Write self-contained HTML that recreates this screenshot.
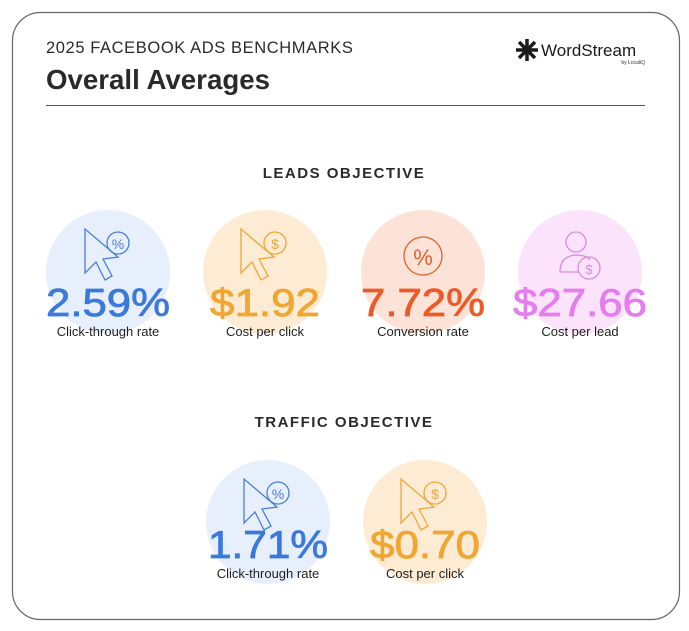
<!DOCTYPE html>
<html><head><meta charset="utf-8"><style>
html,body{margin:0;padding:0;background:#fff;}
svg{display:block;}
text{font-family:"Liberation Sans",sans-serif;}
</style></head><body>
<svg width="689" height="631" viewBox="0 0 689 631" xmlns="http://www.w3.org/2000/svg">
<rect x="12.5" y="12.5" width="667" height="607" rx="28" fill="#fff" stroke="#666" stroke-width="1.2"/>
<text x="46" y="53" font-size="16.5" fill="#2a2a2a" letter-spacing="0.6">2025 FACEBOOK ADS BENCHMARKS</text>
<text x="46" y="89" font-size="28" font-weight="bold" fill="#2a2a2a" textLength="224" lengthAdjust="spacingAndGlyphs">Overall Averages</text>
<line x1="46" y1="105.5" x2="645" y2="105.5" stroke="#555" stroke-width="1"/>
<g fill="#1a1a1a"><circle cx="527" cy="50" r="4"/><path d="M527 39v22M516 50h22M519 42l16 16M535 42l-16 16" stroke="#1a1a1a" stroke-width="3.5"/></g>
<text x="541" y="56" font-size="17" fill="#1a1a1a">WordStream</text>
<text x="645" y="64" font-size="5" fill="#333" text-anchor="end">by LocaliQ</text>

<text x="344" y="178" font-size="15" font-weight="bold" fill="#2a2a2a" text-anchor="middle" letter-spacing="1.5">LEADS OBJECTIVE</text>
<text x="344" y="427" font-size="15" font-weight="bold" fill="#2a2a2a" text-anchor="middle" letter-spacing="1.5">TRAFFIC OBJECTIVE</text>

<circle cx="108" cy="272" r="62" fill="#e7effc"/>
<circle cx="265" cy="272" r="62" fill="#fdecd3"/>
<circle cx="423" cy="272" r="62" fill="#fde2d8"/>
<circle cx="580" cy="272" r="62" fill="#fbe4fb"/>
<circle cx="268" cy="522" r="62" fill="#e7effc"/>
<circle cx="425" cy="522" r="62" fill="#fdecd3"/>

<g fill="none" stroke-width="1.3">
<g stroke="#4a7fd6"><path d="M85 229 L85 273 L96 262 L105 280 L112 276 L103 259 L118 257 Z"/><circle cx="118" cy="243" r="11"/></g>
<text x="118" y="249" font-size="14" fill="#4a7fd6" text-anchor="middle">%</text>
<g stroke="#eea63a"><path d="M241 229 L241 273 L252 262 L261 280 L268 276 L259 259 L274 257 Z"/><circle cx="275" cy="243" r="11"/></g>
<text x="275" y="249" font-size="14" fill="#eea63a" text-anchor="middle">$</text>
<g stroke="#e0612f"><circle cx="423" cy="256" r="19"/></g>
<text x="423" y="265" font-size="22" fill="#e0612f" text-anchor="middle">%</text>
<g stroke="#d98ae0"><circle cx="576" cy="242" r="10"/><path d="M560 272 Q560 256 576 255 Q586 255 590 260"/><path d="M560 272 L578 272"/><circle cx="589" cy="268" r="11"/></g>
<text x="589" y="274" font-size="13" fill="#d98ae0" text-anchor="middle">$</text>
<g stroke="#4a7fd6"><path d="M244 479 L244 523 L255 512 L264 530 L271 526 L262 509 L277 507 Z"/><circle cx="278" cy="493" r="11"/></g>
<text x="278" y="499" font-size="14" fill="#4a7fd6" text-anchor="middle">%</text>
<g stroke="#eea63a"><path d="M401 479 L401 523 L412 512 L421 530 L428 526 L419 509 L434 507 Z"/><circle cx="435" cy="493" r="11"/></g>
<text x="435" y="499" font-size="14" fill="#eea63a" text-anchor="middle">$</text>
</g>

<g font-size="39" text-anchor="middle" stroke-width="0.8">
<text x="108" y="316" fill="#3b79dc" stroke="#3b79dc" textLength="124" lengthAdjust="spacingAndGlyphs">2.59%</text>
<text x="265" y="316" fill="#f0a631" stroke="#f0a631" textLength="110" lengthAdjust="spacingAndGlyphs">$1.92</text>
<text x="423" y="316" fill="#ec5a27" stroke="#ec5a27" textLength="124" lengthAdjust="spacingAndGlyphs">7.72%</text>
<text x="580" y="316" fill="#e57df0" stroke="#e57df0" textLength="134" lengthAdjust="spacingAndGlyphs">$27.66</text>
<text x="268" y="558" fill="#3b79dc" stroke="#3b79dc" textLength="120" lengthAdjust="spacingAndGlyphs">1.71%</text>
<text x="425" y="558" fill="#f0a631" stroke="#f0a631" textLength="110" lengthAdjust="spacingAndGlyphs">$0.70</text>
</g>
<g font-size="13" fill="#1f1f1f" text-anchor="middle">
<text x="108" y="336">Click-through rate</text>
<text x="265" y="336">Cost per click</text>
<text x="423" y="336">Conversion rate</text>
<text x="580" y="336">Cost per lead</text>
<text x="268" y="578">Click-through rate</text>
<text x="425" y="578">Cost per click</text>
</g>
</svg>
</body></html>
